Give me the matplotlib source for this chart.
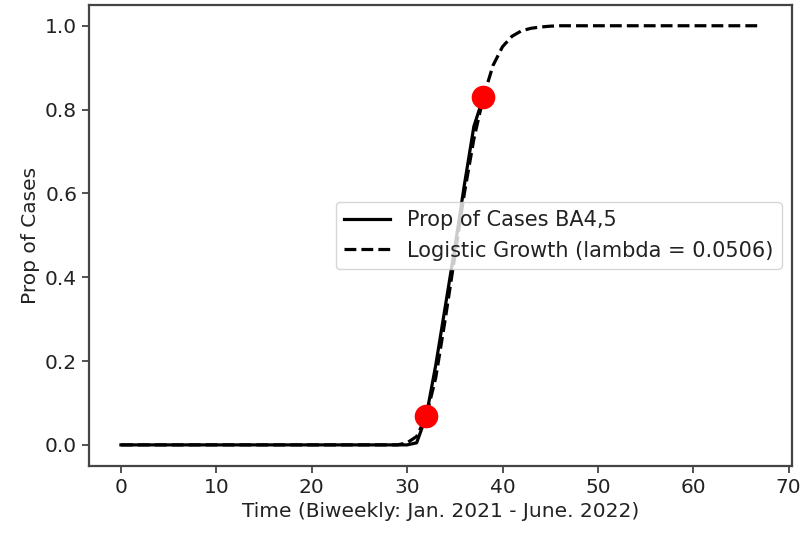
import matplotlib
matplotlib.use("Agg")
import matplotlib.pyplot as plt


# observed proportion of BA4,5 cases, biweekly index 0..38
obs_time = list(range(0, 39))
obs_prop = [0.0] * 31 + [0.005, 0.068, 0.19, 0.33, 0.47, 0.62, 0.76, 0.83]

# logistic growth curve, index 0..67
fit_time = list(range(0, 68))
fit_prop = (
    [0.0] * 30
    + [0.005, 0.02, 0.068, 0.16, 0.30, 0.45, 0.60, 0.73, 0.83,
       0.905, 0.95, 0.975, 0.988, 0.994, 0.997, 0.999]
    + [1.0] * 22
)

# the two anchor points
point_time = [32, 38]
point_prop = [0.068, 0.83]


def main():
    fig = plt.figure(figsize=(8.09, 5.33), dpi=100)
    ax = fig.add_axes([0.110, 0.126, 0.869, 0.865])

    ax.plot(obs_time, obs_prop, color="black", lw=2.3, label="Prop of Cases BA4,5")
    ax.plot(fit_time, fit_prop, color="black", lw=2.3, ls="--",
            label="Logistic Growth (lambda = 0.0506)")
    ax.plot(point_time, point_prop, "o", color="red", ms=16, zorder=5)

    ax.set_xlabel("Time (Biweekly: Jan. 2021 - June. 2022)", fontsize=14.5, color="#222222")
    ax.set_ylabel("Prop of Cases", fontsize=14.5, color="#222222")
    ax.tick_params(labelsize=14.5, width=1.3, length=5, color="#444444",
                   labelcolor="#222222")
    for sp in ax.spines.values():
        sp.set_linewidth(1.6)
        sp.set_color("#444444")

    leg = ax.legend(loc="center right", fontsize=15, handlelength=2.2)
    for t in leg.get_texts():
        t.set_color("#222222")

    fig.savefig("out.png", dpi=100)


if __name__ == "__main__":
    main()
